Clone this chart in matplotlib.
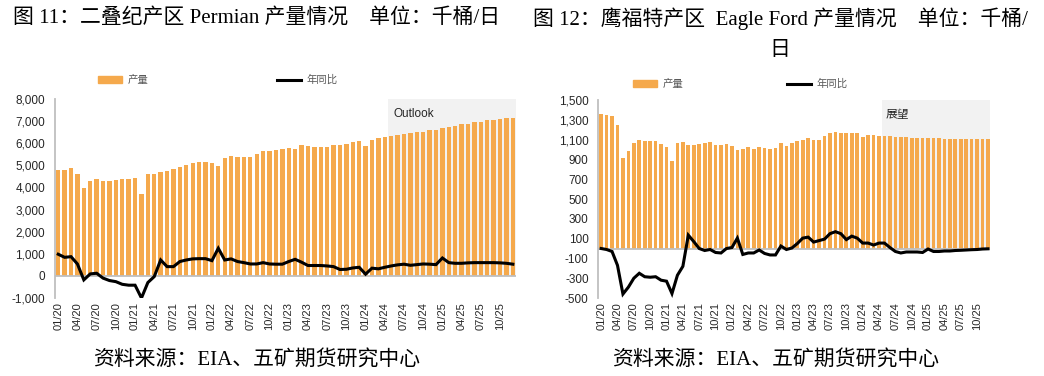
import matplotlib.pyplot as plt
from matplotlib.patches import Patch
from matplotlib.lines import Line2D
import numpy as np

plt.rcParams['font.family'] = ['Liberation Sans', 'Noto Sans CJK SC']

months = [f"{m:02d}/{y}" for y in range(20, 26) for m in range(1, 13)]

permian_prod = [4800, 4780, 4880, 4600, 3980, 4310, 4370, 4290, 4290, 4340, 4380, 4370,
                4430, 3690, 4590, 4610, 4700, 4740, 4820, 4920, 5020, 5090, 5170, 5170,
                5120, 4950, 5330, 5410, 5380, 5360, 5380, 5510, 5630, 5660, 5710, 5720,
                5800, 5750, 5900, 5860, 5840, 5830, 5830, 5930, 5920, 5960, 6070, 6110,
                5860, 6130, 6230, 6290, 6340, 6380, 6410, 6440, 6490, 6530, 6580, 6620,
                6670, 6730, 6790, 6850, 6890, 6940, 6980, 7030, 7060, 7090, 7120, 7150]
permian_yoy = [980, 840, 870, 540, -180, 90, 120, -100, -210, -260, -380, -420,
               -420, -1000, -300, -30, 720, 420, 420, 650, 720, 770, 780, 780,
               690, 1250, 720, 770, 650, 600, 540, 540, 600, 540, 530, 530,
               650, 750, 620, 470, 470, 470, 450, 420, 290, 300, 360, 390,
               80, 350, 320, 390, 450, 500, 530, 480, 510, 540, 530, 510,
               810, 600, 570, 570, 590, 600, 600, 600, 600, 590, 570, 530]

eagle_prod = [1355, 1345, 1335, 1245, 918, 981, 1069, 1092, 1088, 1088, 1088, 1058,
              1030, 889, 1069, 1077, 1050, 1043, 1058, 1067, 1077, 1047, 1047, 1053,
              1039, 995, 1009, 1025, 1005, 1025, 1015, 1005, 1017, 1066, 1039, 1065,
              1084, 1096, 1120, 1095, 1095, 1134, 1162, 1174, 1162, 1162, 1162, 1162,
              1129, 1146, 1146, 1139, 1136, 1133, 1129, 1126, 1123, 1119, 1119, 1116,
              1114, 1113, 1112, 1111, 1110, 1109, 1108, 1107, 1107, 1106, 1106, 1105]
eagle_yoy = [0, -10, -30, -170, -460, -390, -300, -250, -285, -290, -285, -320,
             -330, -455, -270, -180, 135, 70, 0, -20, -10, -40, -45, 0,
             10, 105, -60, -45, -45, -15, -50, -65, -65, 25, -10, 5,
             50, 105, 115, 65, 80, 95, 150, 170, 150, 90, 125, 105,
             55, 55, 35, 55, 55, 10, -30, -45, -35, -35, -35, -40,
             -5, -30, -30, -25, -25, -20, -18, -15, -12, -10, -5, -3]

outlook_start = 51.5

BAR = '#F5A94C'
GREY = '#BFBFBF'
TXT = '#262626'

fig = plt.figure(figsize=(10.44, 3.76), dpi=100)


def draw_panel(rect, prod, yoy, ylim, yticks, shade_label, shade_font, legend_x, legend_y, colsp, x_right):
    ax = fig.add_axes(rect)
    x = np.arange(len(prod))
    ax.axvspan(outlook_start, x_right, ymin=(0 - ylim[0]) / (ylim[1] - ylim[0]), ymax=1,
               color='#F2F2F2', zorder=0, lw=0)
    ax.bar(x, prod, width=0.68, color=BAR, zorder=2)
    ax.axhline(0, color=GREY, lw=1.3, zorder=3)
    ax.plot(x, yoy, color='black', lw=2.2, zorder=4, solid_joinstyle='miter')
    ax.set_xlim(-0.5, x_right)
    ax.set_ylim(*ylim)
    ax.set_yticks(yticks)
    ax.set_yticklabels([f"{v:,}" for v in yticks], fontsize=8.5, color=TXT)
    ax.set_xticks(x[::3])
    ax.set_xticklabels(months[::3], rotation=90, fontsize=8, color=TXT)
    ax.tick_params(length=0, pad=3)
    ax.tick_params(axis='y', pad=7)
    for s in ['top', 'right', 'bottom']:
        ax.spines[s].set_visible(False)
    ax.spines['left'].set_color(GREY)
    ax.spines['left'].set_linewidth(1.3)
    ax.text(outlook_start + 0.8, ylim[1] - (ylim[1] - ylim[0]) * 0.075, shade_label,
            fontsize=8.5, color=TXT, family=shade_font, va='center', zorder=1)
    handles = [Patch(color=BAR), Line2D([], [], color='black', lw=2.2)]
    fig.legend(handles, ['产量', '年同比'], loc='center left', ncol=2, frameon=False,
               bbox_to_anchor=(legend_x, legend_y), borderpad=0, borderaxespad=0,
               handlelength=2.3, handleheight=0.6, handletextpad=0.5, columnspacing=colsp,
               prop={'family': 'Noto Sans CJK SC', 'size': 7.5}, labelcolor='#595959')
    return ax


draw_panel([0.0527, 0.2074, 0.4416, 0.5293], permian_prod, permian_yoy, (-1000, 8000),
           list(range(-1000, 8001, 1000)), 'Outlook', 'Liberation Sans',
           98 / 1044, 1 - 80 / 376, 12.4, 71.5)
draw_panel([0.5732, 0.2074, 0.3755, 0.5266], eagle_prod, eagle_yoy, (-500, 1500),
           list(range(-500, 1501, 200)), '展望', 'Noto Sans CJK SC',
           633 / 1044, 1 - 84 / 376, 10.0, 71.45)

title_font = ['Liberation Serif', 'Noto Sans CJK SC']
fig.text(257 / 1044, 1 - 18 / 376, '图 11：二叠纪产区 Permian 产量情况    单位：千桶/日',
         ha='center', va='center', fontsize=15, family=title_font)
fig.text(780 / 1044, 1 - 7 / 376, '图 12：鹰福特产区  Eagle Ford 产量情况    单位：千桶/\n日',
         ha='center', va='top', fontsize=15, family=title_font, linespacing=1.85,
         multialignment='center')
fig.text(257 / 1044, 1 - 360 / 376, '资料来源：EIA、五矿期货研究中心',
         ha='center', va='center', fontsize=15, family=title_font)
fig.text(776 / 1044, 1 - 360 / 376, '资料来源：EIA、五矿期货研究中心',
         ha='center', va='center', fontsize=15, family=title_font)

fig.savefig('out.png', dpi=100)
